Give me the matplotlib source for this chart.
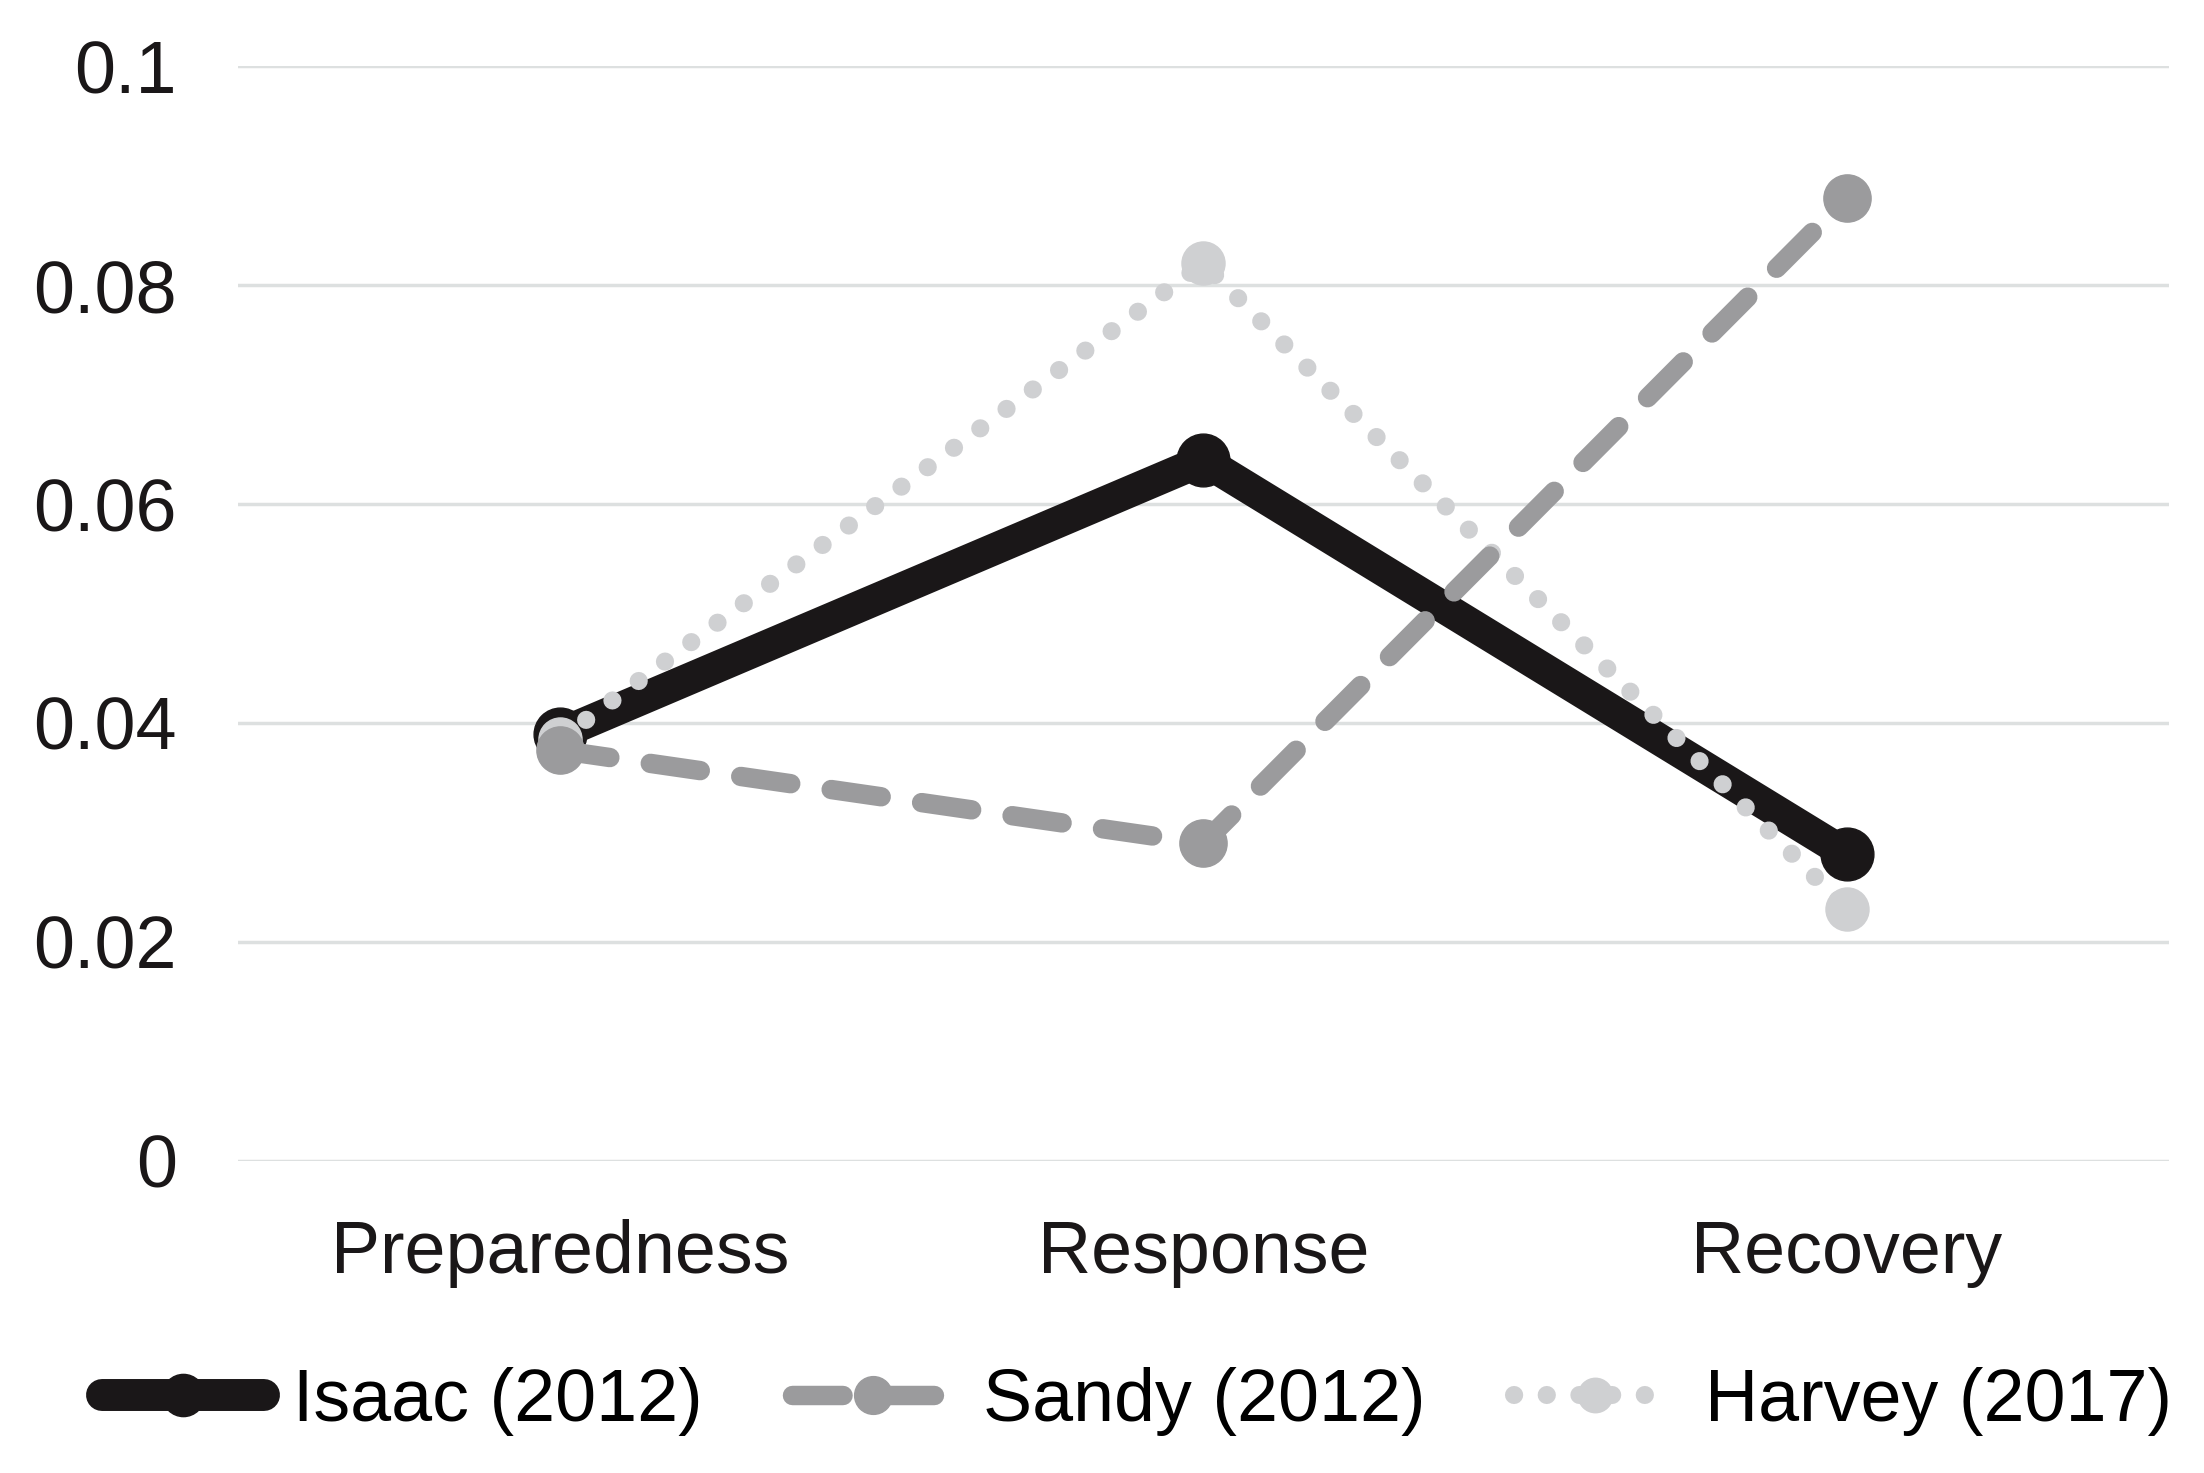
import matplotlib.pyplot as plt

plt.rcParams['font.family'] = ['Liberation Sans', 'DejaVu Sans']

phases = ['Preparedness', 'Response', 'Recovery']
isaac = [0.039, 0.064, 0.028]
sandy = [0.0375, 0.029, 0.088]
harvey = [0.0385, 0.082, 0.023]
yticks = [0, 0.02, 0.04, 0.06, 0.08, 0.1]
ytick_labels = ['0', '0.02', '0.04', '0.06', '0.08', '0.1']

fig = plt.figure(figsize=(22.04, 14.73), dpi=100)
ax = fig.add_axes([0.108, 0.212, 0.876, 0.743])

x = range(len(phases))
ax.plot(x, isaac, color='#1a1718', lw=23, marker='o', ms=38,
        solid_capstyle='round', label='Isaac (2012)', zorder=3)
ax.plot(x, harvey, color='#cfd0d2', lw=13, marker='o', ms=31,
        linestyle=(0, (0.01, 1.8)), dash_capstyle='round',
        label='Harvey (2017)', zorder=4)
ax.plot(x, sandy, color='#9b9b9d', lw=14, marker='o', ms=34,
        linestyle=(0, (2.6, 2.1)), dash_capstyle='round',
        label='Sandy (2012)', zorder=5)

ax.set_xlim(-0.5, 2.5)
ax.set_ylim(0, 0.1)
ax.set_yticks(yticks)
ax.set_yticklabels(ytick_labels)
ax.set_xticks(list(x))
ax.set_xticklabels(phases)
ax.grid(axis='y', color='#dde0e0', lw=2.5)
ax.set_axisbelow(True)
for s in ax.spines.values():
    s.set_visible(False)
ax.tick_params(axis='both', length=0, labelsize=53, colors='#1a1718')
ax.tick_params(axis='y', pad=44)
ax.tick_params(axis='x', pad=42)

h, l = ax.get_legend_handles_labels()
order = [0, 2, 1]
fig.legend([h[i] for i in order], [l[i] for i in order],
           loc='lower center', bbox_to_anchor=(0.516, -0.02), ncol=3,
           frameon=False, fontsize=53, handlelength=2.2, handletextpad=0.4,
           columnspacing=1.2, markerscale=0.8)

fig.savefig('out.png', dpi=100)
